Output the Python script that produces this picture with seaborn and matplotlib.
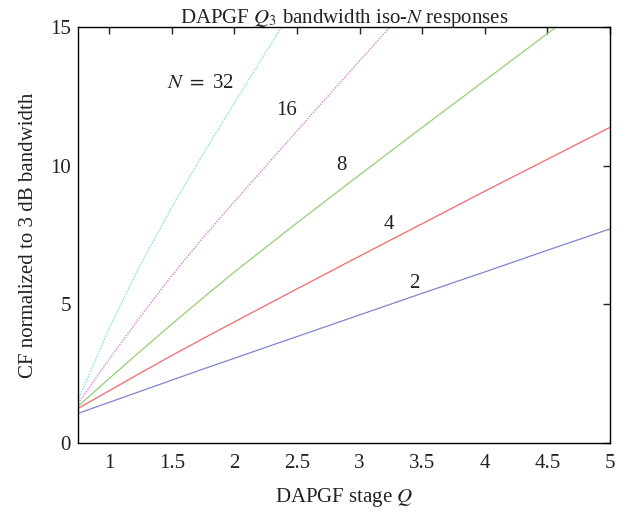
import numpy as np
import pandas as pd
import matplotlib
matplotlib.use("Agg")
import matplotlib.pyplot as plt
import seaborn as sns

# Data
q_stage = [0.75, 1.0, 1.25, 1.5, 1.75, 2.0, 2.5, 3.0, 3.5, 4.0, 4.5, 5.0]
n2  = [1.07, 1.47, 1.87, 2.27, 2.67, 3.06, 3.84, 4.62, 5.40, 6.17, 6.95, 7.72]
n4  = [1.25, 1.89, 2.53, 3.16, 3.77, 4.37, 5.56, 6.74, 7.91, 9.08, 10.23, 11.38]
n8  = [1.33, 2.33, 3.32, 4.29, 5.24, 6.17, 7.94, 9.67, 11.38, 13.07, 14.76, 16.45]
n16 = [1.43, 3.03, 4.57, 6.04, 7.41, 8.71, 11.26, 13.78, 16.30, np.nan, np.nan, np.nan]
n32 = [1.55, 4.15, 6.45, 8.51, 10.43, 12.27, 15.90, np.nan, np.nan, np.nan, np.nan, np.nan]
orders = ["2", "4", "8", "16", "32"]
labels = ["2", "4", "8", "16", "$N$ = 32"]
label_q = [3.434, 3.237, 2.856, 2.417, 1.728]
label_y = [5.77, 7.87, 10.0, 12.0, 12.98]
x_ticks = [1, 1.5, 2, 2.5, 3, 3.5, 4, 4.5, 5]
x_tick_labels = ["1", "1.5", "2", "2.5", "3", "3.5", "4", "4.5", "5"]
y_ticks = [0, 5, 10, 15]

series = {"2": n2, "4": n4, "8": n8, "16": n16, "32": n32}
rows = []
for n in orders:
    for q, v in zip(q_stage, series[n]):
        rows.append({"Q": q, "val": v, "N": n})
df = pd.DataFrame(rows)

sns.set_theme(style="white")
plt.rcParams["font.family"] = ["Liberation Serif", "DejaVu Serif"]
plt.rcParams["mathtext.fontset"] = "stix"

palette = {"2": "#7f86cf", "4": "#f56868", "8": "#93cf78", "16": "#cf7fd0", "32": "#7fdde3"}
dashes = {"2": "", "4": "", "8": "", "16": (1.2, 1.0), "32": (1.2, 1.0)}

fig = plt.figure(figsize=(6.37, 5.14), dpi=100)
ax = fig.add_axes([0.1225, 0.138, 0.835, 0.8095])

sns.lineplot(data=df, x="Q", y="val", hue="N", style="N", hue_order=orders,
             style_order=orders, palette=palette, dashes=dashes, linewidth=0.9,
             legend=False, ax=ax, estimator=None, sort=False)

fs = 15
for lab, lq, ly in zip(labels, label_q, label_y):
    ax.text(lq, ly, lab.replace(" = ", " $=$ "), ha="center", va="center",
            fontsize=fs, color="#222222")

ax.set_xlim(0.75, 5)
ax.set_ylim(0, 15)
ax.set_xticks(x_ticks)
ax.set_xticklabels(x_tick_labels)
ax.set_yticks(y_ticks)
ax.tick_params(direction="in", top=True, right=True, length=5, width=1,
               labelsize=fs, colors="#222222", pad=8)
ax.tick_params(axis="y", pad=5)
for s in ax.spines.values():
    s.set_color("black")
    s.set_linewidth(1.0)
ax.set_xlabel("DAPGF stage $Q$", fontsize=fs, color="#222222", labelpad=9)
ax.set_ylabel("CF normalized to 3 dB bandwidth", fontsize=fs, color="#222222", labelpad=9)
ax.set_title("DAPGF $Q_3$ bandwidth iso-$N$ responses", fontsize=fs, color="#222222", pad=3)

fig.savefig("out.png", dpi=100)
